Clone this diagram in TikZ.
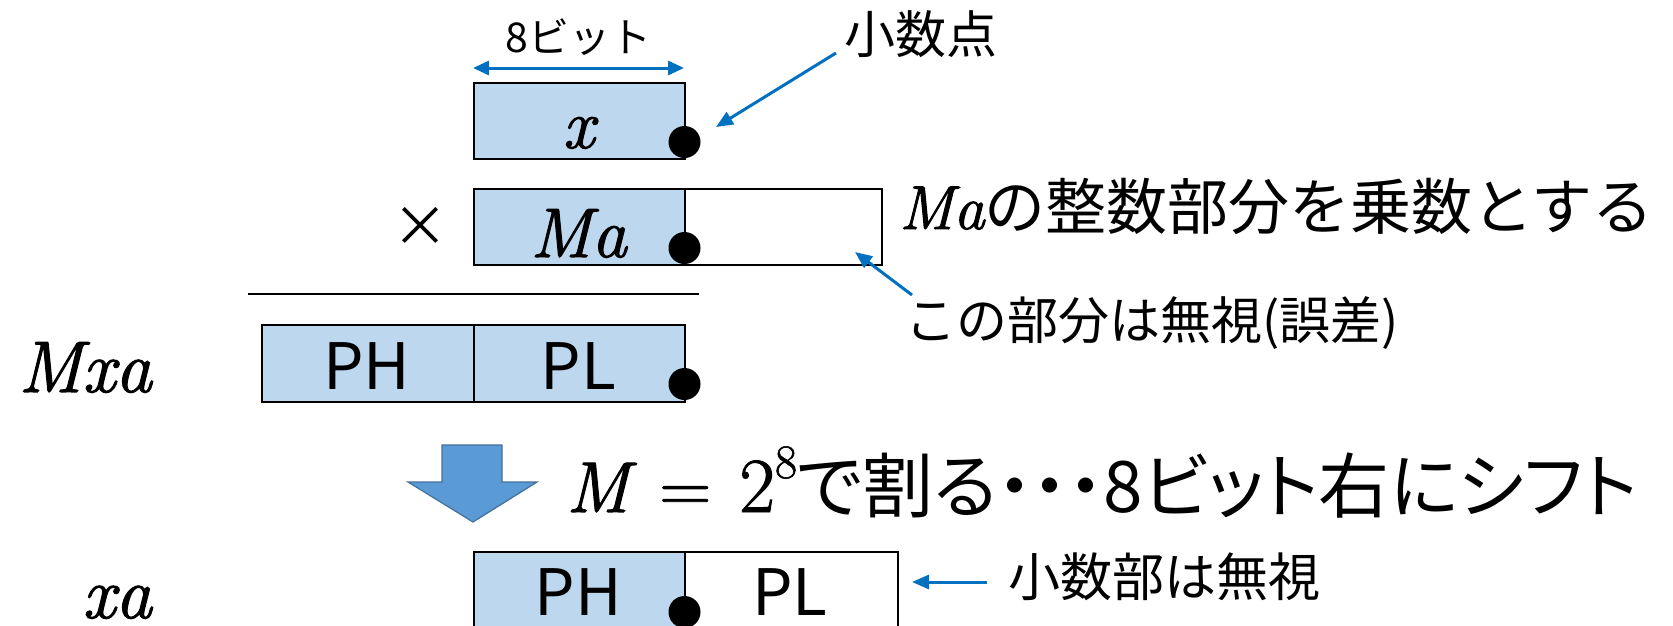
\documentclass[tikz,border=0pt]{standalone}
\usepackage{fontspec}
\usetikzlibrary{arrows.meta}
\newfontfamily\jp{Noto Sans CJK JP}
\newfontfamily\jpp[RawFeature=+palt]{Noto Sans CJK JP}
\newfontfamily\varitfam[FakeBold=1.6]{Latin Modern Roman}
\newfontfamily\varup[FakeBold=1.2]{Latin Modern Roman}
\newcommand\varit{\varitfam\itshape}
\definecolor{cellblue}{HTML}{BDD7EE}
\definecolor{linkblue}{HTML}{0070C0}
\definecolor{bigblue}{HTML}{5B9BD5}
\definecolor{bigedge}{HTML}{41719C}
\begin{document}
\begin{tikzpicture}[x=1pt,y=-1pt,
  cell/.style={draw=black, line width=1.8pt, inner sep=0pt, anchor=north west, minimum height=76pt, fill=white},
  filled/.style={cell, fill=cellblue},
  pointdot/.style={circle, fill=black, inner sep=0pt, minimum size=32pt},
  link/.style={draw=linkblue, line width=3pt, -{Triangle[length=17pt,width=14pt]}},
  dimline/.style={draw=linkblue, line width=3pt, {Triangle[length=16pt,width=14pt]}-{Triangle[length=16pt,width=14pt]}},
  mathbig/.style={inner sep=0pt, anchor=base, font=\varit\fontsize{70}{70}\selectfont},
  celltext/.style={inner sep=0pt, anchor=base, font=\jp\fontsize{64}{64}\selectfont},
  note/.style={inner sep=0pt, anchor=base west}
]
\useasboundingbox (0,0) rectangle (1673,625);
\clip (0,0) rectangle (1673,625);

% top: x
\node[filled, minimum width=211pt] (xbox) at (473,82) {};
\node[mathbig] (xl) at (578.5,148) {x};
\node[pointdot] (xdot) at (684.5,142) {};
\node[inner sep=0pt, anchor=base, font=\jp\fontsize{41}{41}\selectfont] (bits) at (578.5,52) {8ビット};
\coordinate (dl) at (473,68);
\coordinate (dr) at (684,68);
\draw[dimline] (dl) -- (dr);
\node[inner sep=0pt, anchor=base, font=\jp\fontsize{51}{51}\selectfont] (pt) at (921,53) {小数点};
\coordinate (ptfrom) at (836,53);
\coordinate (ptto) at (716,127);
\draw[link] (ptfrom) -- (ptto);

% multiplier row
\node[inner sep=0pt, font=\jp\fontsize{56}{56}\selectfont] (times) at (420,227) {×};
\node[filled, minimum width=211pt] (mabox) at (473,188) {};
\node[cell, minimum width=197pt] (mafrac) at (684,188) {};
\node[mathbig] (mal) at (578.5,257) {Ma};
\node[pointdot] (madot) at (684.5,248) {};
\node[note, font=\varit\fontsize{62}{62}\selectfont] (intpart) at (899,229) {Ma{\jp\fontsize{61}{61}\selectfont の整数部分を乗数とする}};
\node[note, font=\jp\fontsize{51}{51}\selectfont] (ign) at (905,339) {この部分は無視(誤差)};
\coordinate (ignfrom) at (912,295);
\coordinate (ignto) at (855,252);
\draw[link] (ignfrom) -- (ignto);

% rule
\coordinate (ls) at (248,294);
\coordinate (le) at (699,294);
\draw[line width=1.5pt] (ls) -- (le);

% product row
\node[inner sep=0pt, anchor=base east, font=\varit\fontsize{73}{73}\selectfont] (mxa) at (152,392) {Mxa};
\node[filled, minimum width=212pt, minimum height=77pt] (ph) at (261,324) {};
\node[filled, minimum width=211pt, minimum height=77pt] (pl) at (473,324) {};
\node[celltext] (phl) at (367,389) {PH};
\node[celltext] (pll) at (578.5,389) {PL};
\node[pointdot] (pdot) at (684.5,384) {};

% big arrow
\draw[fill=bigblue, draw=bigedge, line width=1.2pt]
  (442,445) -- (502,445) -- (502,482) -- (537,482) -- (473,522) -- (408,482) -- (442,482) -- cycle;
\node[note, font=\varup\fontsize{72}{72}\selectfont] (div) at (566,512) {{\varit M}\hspace{30pt}=\hspace{28pt}{\fontsize{78}{78}\selectfont 2}\raisebox{34pt}{\fontsize{48}{48}\selectfont 8}{\jpp\fontsize{71}{71}\selectfont で割る・・・8ビット右にシフト}};

% result row
\node[inner sep=0pt, anchor=base east, font=\varit\fontsize{73}{73}\selectfont] (xa) at (152,618) {xa};
\node[filled, minimum width=211pt, minimum height=77pt] (rph) at (473,551) {};
\node[cell, minimum width=213pt, minimum height=77pt] (rpl) at (684,551) {};
\node[celltext] (rphl) at (578.5,615) {PH};
\node[celltext] (rpll) at (790,615) {PL};
\node[pointdot] (rdot) at (684.5,612) {};
\node[note, font=\jp\fontsize{52}{52}\selectfont] (frac) at (1008,596) {小数部は無視};
\coordinate (fracfrom) at (987,582);
\coordinate (fracto) at (912,582);
\draw[link] (fracfrom) -- (fracto);
\end{tikzpicture}
\end{document}
